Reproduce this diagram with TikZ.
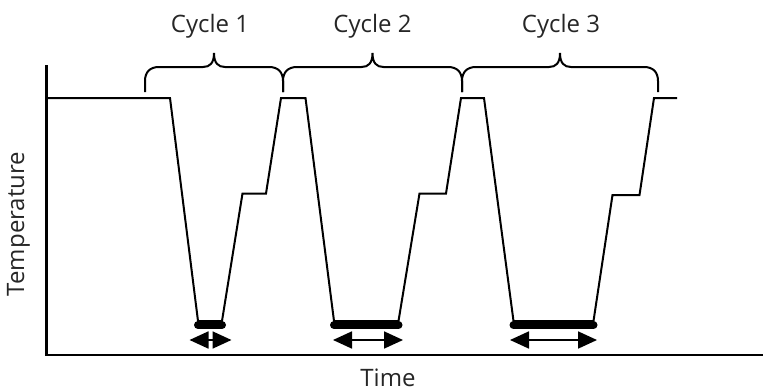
\documentclass[tikz,border=0pt]{standalone}
\usepackage{fontspec}
\setmainfont{Open Sans}
\usetikzlibrary{arrows.meta}
\tikzset{
  axisline/.style={line width=2.8pt, line cap=butt},
  curveline/.style={line width=2pt, line join=miter},
  bracepath/.style={line width=2pt},
  dwell/.style={line width=8pt, line cap=round},
  dwellarrow/.style={line width=1.8pt, {Triangle[length=19pt,width=17pt]}-{Triangle[length=19pt,width=17pt]}},
  lbl/.style={font=\fontsize{24}{28}\selectfont, text=black!85, inner sep=0pt}
}
\newcommand\cycbrace[3]{% left x, right x, centre x
  \draw[bracepath] (#1,92) -- (#1,81) .. controls (#1,72) and (#1+5,67) .. (#1+14,67)
    -- (#3-11,67) .. controls (#3-4,67) and (#3,63) .. (#3,53)
    .. controls (#3,63) and (#3+4,67) .. (#3+11,67)
    -- (#2-14,67) .. controls (#2-5,67) and (#2,72) .. (#2,81) -- (#2,92);
}
\begin{document}
\begin{tikzpicture}[x=1pt,y=-1pt]
\useasboundingbox (0,0) rectangle (763,391);
% axes
\coordinate (ytop) at (46.5,65);
\coordinate (orig) at (46.5,355);
\coordinate (xend) at (763,355);
\draw[axisline] (ytop) -- (orig) -- (xend);
% temperature profile
\draw[curveline] (46,98) -- (170,98) -- (198,321) -- (222,321) -- (242.5,193.5) -- (266,193.5)
  -- (281,98) -- (305.5,98) -- (334,321) -- (398.5,321) -- (419.5,193.5) -- (446,193.5)
  -- (461,98) -- (484,98) -- (513.5,321) -- (593.5,321) -- (612.5,195) -- (639.5,195)
  -- (654,98) -- (677,98);
% dwell bars
\coordinate (d1a) at (198,325); \coordinate (d1b) at (222,325);
\coordinate (d2a) at (334,325); \coordinate (d2b) at (398.5,325);
\coordinate (d3a) at (513.5,325); \coordinate (d3b) at (593.5,325);
\draw[dwell] (d1a) -- (d1b);
\draw[dwell] (d2a) -- (d2b);
\draw[dwell] (d3a) -- (d3b);
% dwell arrows
\coordinate (a1a) at (189.5,340); \coordinate (a1b) at (231.5,340);
\coordinate (a2a) at (333,340); \coordinate (a2b) at (403,340);
\coordinate (a3a) at (510,340); \coordinate (a3b) at (597,340);
\draw[dwellarrow] (a1a) -- (a1b);
\draw[dwellarrow] (a2a) -- (a2b);
\draw[dwellarrow] (a3a) -- (a3b);
% braces
\cycbrace{145}{283}{214}
\cycbrace{283}{462}{372.5}
\cycbrace{462}{658}{560}
% labels
\node[lbl, anchor=base] (c1) at (210,32) {Cycle 1};
\node[lbl, anchor=base] (c2) at (372.5,32) {Cycle 2};
\node[lbl, anchor=base] (c3) at (561,32) {Cycle 3};
\node[lbl, anchor=base] (tm) at (388,386.5) {Time};
\node[lbl, anchor=base, rotate=90] (tp) at (24,224) {Temperature};
\end{tikzpicture}
\end{document}
